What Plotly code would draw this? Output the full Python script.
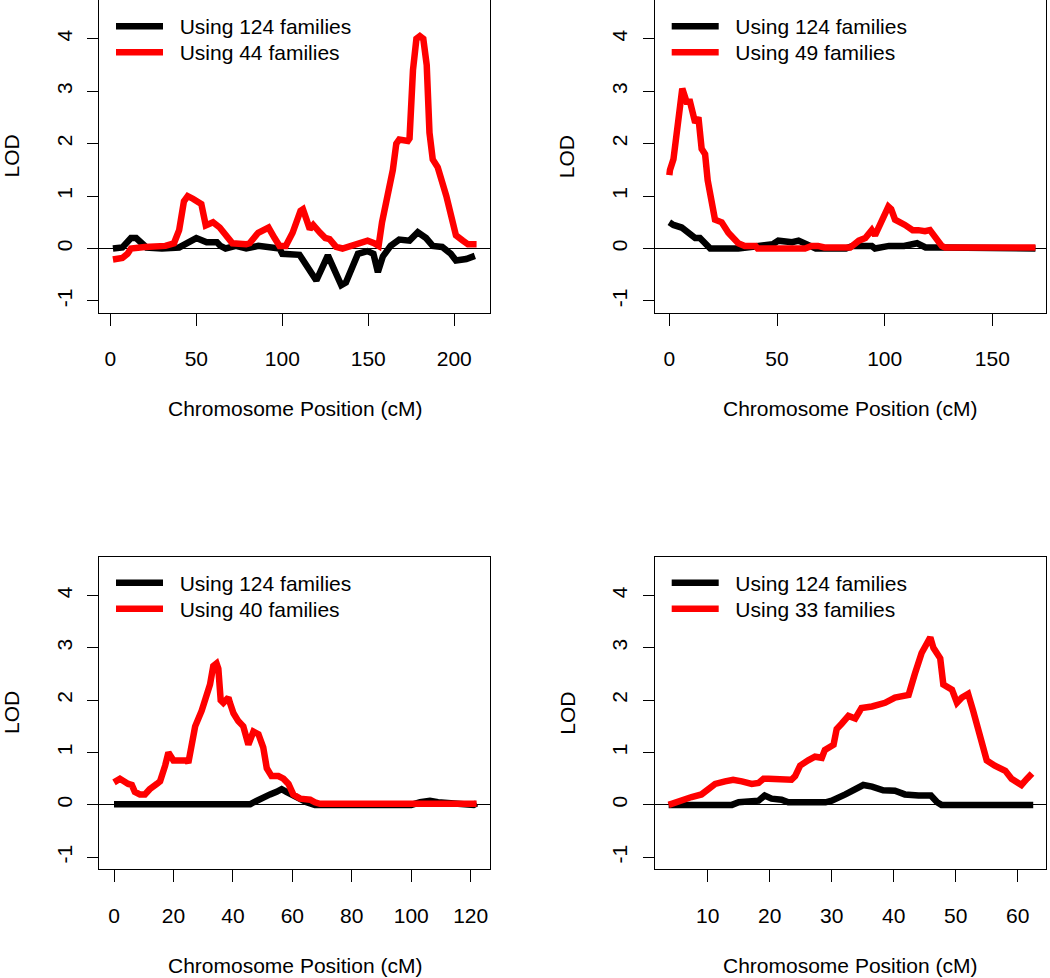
import plotly.graph_objects as go

# ---------------- data ----------------
# Panel 1
p1_all_x = [1.5, 7, 12, 15, 21, 30, 40, 45, 50, 56, 62, 64, 67, 73, 79, 86, 92, 98.4, 100, 108, 110,
            119.8, 126.5, 134.3, 137, 144, 149.6, 153, 155.6, 158.5, 163, 168, 172, 174, 178.8,
            183.6, 187.5, 193, 198, 201, 207, 212]
p1_all_y = [0.0, 0.02, 0.2, 0.2, 0.02, 0.0, 0.02, 0.1, 0.2, 0.12, 0.12, 0.05, 0.0, 0.05, 0.0, 0.05,
            0.02, 0.0, -0.1, -0.1, -0.12, -0.61, -0.13, -0.7, -0.65, -0.1, -0.05, -0.1, -0.45,
            -0.15, 0.05, 0.17, 0.17, 0.15, 0.31, 0.2, 0.05, 0.03, -0.1, -0.23, -0.2, -0.14]
p1_sub_x = [1.5, 7, 10, 12, 20, 30, 32, 37, 40, 42.8, 45, 48, 52.9, 55.5, 59.7, 63.6, 67.4, 71, 79,
            81, 86, 90, 92, 95.5, 98.4, 102, 106, 110.6, 112, 116, 118, 122, 125, 127.5, 131.3,
            135, 141, 146, 149.6, 153.4, 156, 158, 161.4, 164.3, 166.3, 168, 173, 174, 176, 178,
            180, 182, 184, 185.6, 187.5, 190.4, 195.4, 198.3, 201, 205, 208, 213]
p1_sub_y = [-0.21, -0.18, -0.1, 0.0, 0.03, 0.04, 0.05, 0.1, 0.35, 0.9, 1.0, 0.95, 0.85, 0.44, 0.5,
            0.4, 0.25, 0.1, 0.08, 0.1, 0.3, 0.35, 0.4, 0.2, 0.05, 0.05, 0.3, 0.72, 0.75, 0.37, 0.45,
            0.3, 0.2, 0.18, 0.03, 0.0, 0.05, 0.1, 0.15, 0.1, 0.05, 0.5, 1.0, 1.5, 2.0, 2.08, 2.05,
            2.1, 3.4, 4.0, 4.05, 4.0, 3.5, 2.21, 1.7, 1.55, 1.0, 0.55, 0.25, 0.15, 0.08, 0.08]

# Panel 2
p2_all_x = [0, 1.9, 5.7, 8.8, 12, 14.2, 16.6, 19, 32, 44, 48, 50.6, 54, 57, 60, 63, 66, 68, 82, 85,
            94, 95.5, 102, 103, 105, 109, 115, 117, 119, 126, 170]
p2_all_y = [0.5, 0.45, 0.4, 0.3, 0.2, 0.2, 0.1, 0.0, 0.0, 0.05, 0.08, 0.15, 0.12, 0.12, 0.15, 0.1,
            0.05, 0.0, 0.0, 0.05, 0.05, 0.0, 0.05, 0.05, 0.02, 0.05, 0.1, 0.05, 0.02, 0.02, 0.0]
p2_sub_x = [0, 0.3, 1.9, 4.2, 6, 8, 9.6, 12, 13.5, 15, 16.6, 17.8, 19.7, 21.2, 24.3, 27.4, 32, 35,
            40, 41, 63, 66, 69, 72, 84, 85, 88, 91, 94, 95.5, 98.6, 101.7, 103, 104.8, 109.4, 113,
            115.6, 118.7, 121, 123.4, 126.5, 128, 170]
p2_sub_y = [1.4, 1.5, 1.7, 2.5, 3.05, 2.8, 2.8, 2.4, 2.5, 1.9, 1.8, 1.3, 0.8, 0.55, 0.5, 0.3, 0.1,
            0.05, 0.05, 0.0, 0.0, 0.05, 0.05, 0.02, 0.02, 0.05, 0.15, 0.2, 0.35, 0.25, 0.5, 0.8,
            0.75, 0.55, 0.45, 0.35, 0.35, 0.33, 0.35, 0.2, 0.05, 0.02, 0.02]

# Panel 3
p3_all_x = [0, 45.8, 47, 48.6, 50.2, 52.5, 54.7, 56.4, 58, 60.3, 62.6, 64.8, 67.6, 79, 80.5, 82,
            100, 103, 106.3, 109, 112, 121, 122]
p3_all_y = [0.01, 0.01, 0.05, 0.1, 0.15, 0.2, 0.25, 0.3, 0.25, 0.18, 0.1, 0.05, 0.0, 0.0, 0.03,
            0.0, 0.0, 0.05, 0.08, 0.05, 0.03, 0.0, 0.03]
p3_sub_x = [0, 2, 4.8, 6, 7, 8.7, 10.4, 12, 14.4, 15.5, 17.2, 18.3, 20, 24.5, 25, 26.1, 27.3, 29.5,
            30.6, 32.3, 33.4, 34.5, 35.1, 35.9, 36.8, 38.5, 39, 40.2, 41.8, 43.5, 45.2, 46.9, 48.6,
            50.2, 51.4, 53, 55.3, 57, 58.7, 60.3, 62.6, 66, 67.6, 69.3, 122]
p3_sub_y = [0.43, 0.5, 0.4, 0.38, 0.25, 0.2, 0.2, 0.3, 0.4, 0.45, 0.75, 1.0, 0.85, 0.85, 0.8, 1.2,
            1.5, 1.8, 2.0, 2.3, 2.65, 2.7, 2.6, 2.0, 1.95, 2.05, 1.95, 1.75, 1.6, 1.5, 1.15, 1.4,
            1.35, 1.1, 0.7, 0.55, 0.55, 0.5, 0.4, 0.2, 0.12, 0.1, 0.05, 0.02, 0.02]

# Panel 4
p4_all_x = [3.7, 13.9, 15, 17, 18.2, 19.2, 20.3, 21.9, 23, 29, 30, 32.2, 33.8, 35.1, 36.5, 38.3,
            40.2, 41.8, 44, 46, 47, 47.7, 62.5]
p4_all_y = [0.0, 0.0, 0.05, 0.05, 0.08, 0.18, 0.12, 0.1, 0.05, 0.05, 0.08, 0.2, 0.3, 0.38, 0.35,
            0.28, 0.27, 0.2, 0.18, 0.18, 0.05, 0.0, 0.0]
p4_sub_x = [3.7, 5.8, 7.4, 9, 10.1, 11.2, 12.8, 14.1, 15.5, 17.1, 18.2, 19, 19.8, 21.4, 23.5, 24.1,
            24.9, 26.2, 27.3, 28.4, 28.9, 30.3, 30.8, 31.6, 32.7, 33.8, 34.8, 36.5, 38.6, 40.2,
            42.4, 43.4, 44.5, 45.9, 46.4, 47.5, 48, 49.4, 50.2, 51, 52, 52.8, 53.9, 55, 56.3, 58,
            59, 59.8, 60.6, 61.5, 62.3]
p4_sub_y = [0.0, 0.1, 0.15, 0.2, 0.3, 0.4, 0.45, 0.48, 0.45, 0.4, 0.42, 0.5, 0.5, 0.48, 0.48, 0.55,
            0.75, 0.85, 0.92, 0.9, 1.05, 1.15, 1.45, 1.55, 1.7, 1.65, 1.85, 1.88, 1.95, 2.05, 2.1,
            2.5, 2.9, 3.2, 3.0, 2.8, 2.3, 2.2, 1.95, 2.05, 2.12, 1.8, 1.3, 0.85, 0.75, 0.65, 0.5,
            0.45, 0.38, 0.5, 0.6]

sub_labels = ["Using 44 families", "Using 49 families", "Using 40 families", "Using 33 families"]
all_label = "Using 124 families"

x_ticks = [[0, 50, 100, 150, 200], [0, 50, 100, 150], [0, 20, 40, 60, 80, 100, 120],
           [10, 20, 30, 40, 50, 60]]
x_ranges = [[-6.6, 220.8], [-6.8, 174.9], [-5.05, 126.5], [1.45, 64.56]]
y_ticks = [-1, 0, 1, 2, 3, 4]
y_tick_text = ["-1", "0", "1", "2", "3", "4"]
y_range = [-1.23, 4.74]

# ---------------- figure ----------------
W, H = 1050, 978
FONT = "Liberation Sans, Arial, sans-serif"
FS = 21
PAD = "\u00a0\u00a0"

panels = [
    (p1_all_x, p1_all_y, p1_sub_x, p1_sub_y),
    (p2_all_x, p2_all_y, p2_sub_x, p2_sub_y),
    (p3_all_x, p3_all_y, p3_sub_x, p3_sub_y),
    (p4_all_x, p4_all_y, p4_sub_x, p4_sub_y),
]

# pixel geometry of plot boxes (left, right, top, bottom)
boxes = [(99, 490, 0, 313), (654.7, 1046, 0, 313), (99, 490, 556.7, 869.3), (654.7, 1046, 556.7, 869.3)]

fig = go.Figure()
layout = dict(
    width=W, height=H, margin=dict(l=0, r=0, t=0, b=0),
    paper_bgcolor="white", plot_bgcolor="white",
    font=dict(family=FONT, size=FS, color="black"),
    showlegend=True, annotations=[],
)

LW = 6.5
for i, (ax, ay, sx, sy) in enumerate(panels):
    n = "" if i == 0 else str(i + 1)
    l, r, t, b = boxes[i]
    leg_a = "legend" if i == 0 else f"legend{2 * i + 1}"
    leg_s = f"legend{2 * i + 2}"
    fig.add_trace(go.Scatter(x=ax, y=ay, mode="lines", name=PAD + all_label,
                             line=dict(color="black", width=LW), xaxis="x" + n, yaxis="y" + n,
                             legend=leg_a))
    fig.add_trace(go.Scatter(x=sx, y=sy, mode="lines", name=PAD + sub_labels[i],
                             line=dict(color="#ff0000", width=LW), xaxis="x" + n, yaxis="y" + n,
                             legend=leg_s))
    xd = [l / W, r / W]
    yd = [1 - b / H, 1 - t / H]
    layout["xaxis" + n] = dict(
        domain=xd, range=x_ranges[i], anchor="y" + n, tickmode="array", tickvals=x_ticks[i],
        showgrid=False, zeroline=False, showline=True, mirror=True, linecolor="black",
        linewidth=1, ticks="outside", ticklen=12, tickwidth=1, tickcolor="black",
        ticklabelstandoff=15, tickfont=dict(size=FS, family=FONT, color="black"),
    )
    layout["yaxis" + n] = dict(
        domain=yd, range=y_range, anchor="x" + n, tickmode="array", tickvals=y_ticks,
        ticktext=y_tick_text,
        showgrid=False, zeroline=True, zerolinecolor="black", zerolinewidth=1.2,
        showline=True, mirror=True, linecolor="black", linewidth=1, ticks="outside",
        ticklen=11, tickwidth=1, tickcolor="black", tickangle=-90, ticklabelstandoff=7,
        tickfont=dict(size=FS, family=FONT, color="black"),
    )
    for leg, row_c in ((leg_a, 27), (leg_s, 53)):
        layout[leg] = dict(
            x=(l + 12) / W, y=1 - (t + row_c - 21) / H, xanchor="left", yanchor="top",
            bgcolor="rgba(0,0,0,0)", borderwidth=0, itemwidth=47, tracegroupgap=0,
            font=dict(size=FS, family=FONT, color="black"),
        )
    # axis titles
    layout["annotations"].append(dict(
        text="Chromosome Position (cM)", xref="paper", yref="paper",
        x=(l + r) / 2 / W, y=1 - (b + 96) / H, showarrow=False,
        font=dict(size=FS, family=FONT, color="black"), xanchor="center", yanchor="middle"))
    layout["annotations"].append(dict(
        text="LOD", xref="paper", yref="paper", textangle=-90,
        x=(l - 88) / W, y=1 - (t + b) / 2 / H, showarrow=False,
        font=dict(size=FS, family=FONT, color="black"), xanchor="center", yanchor="middle"))

fig.update_layout(**layout)
fig.write_html("out.html", config={"displayModeBar": False},
               post_script="document.body.style.margin='0';")
